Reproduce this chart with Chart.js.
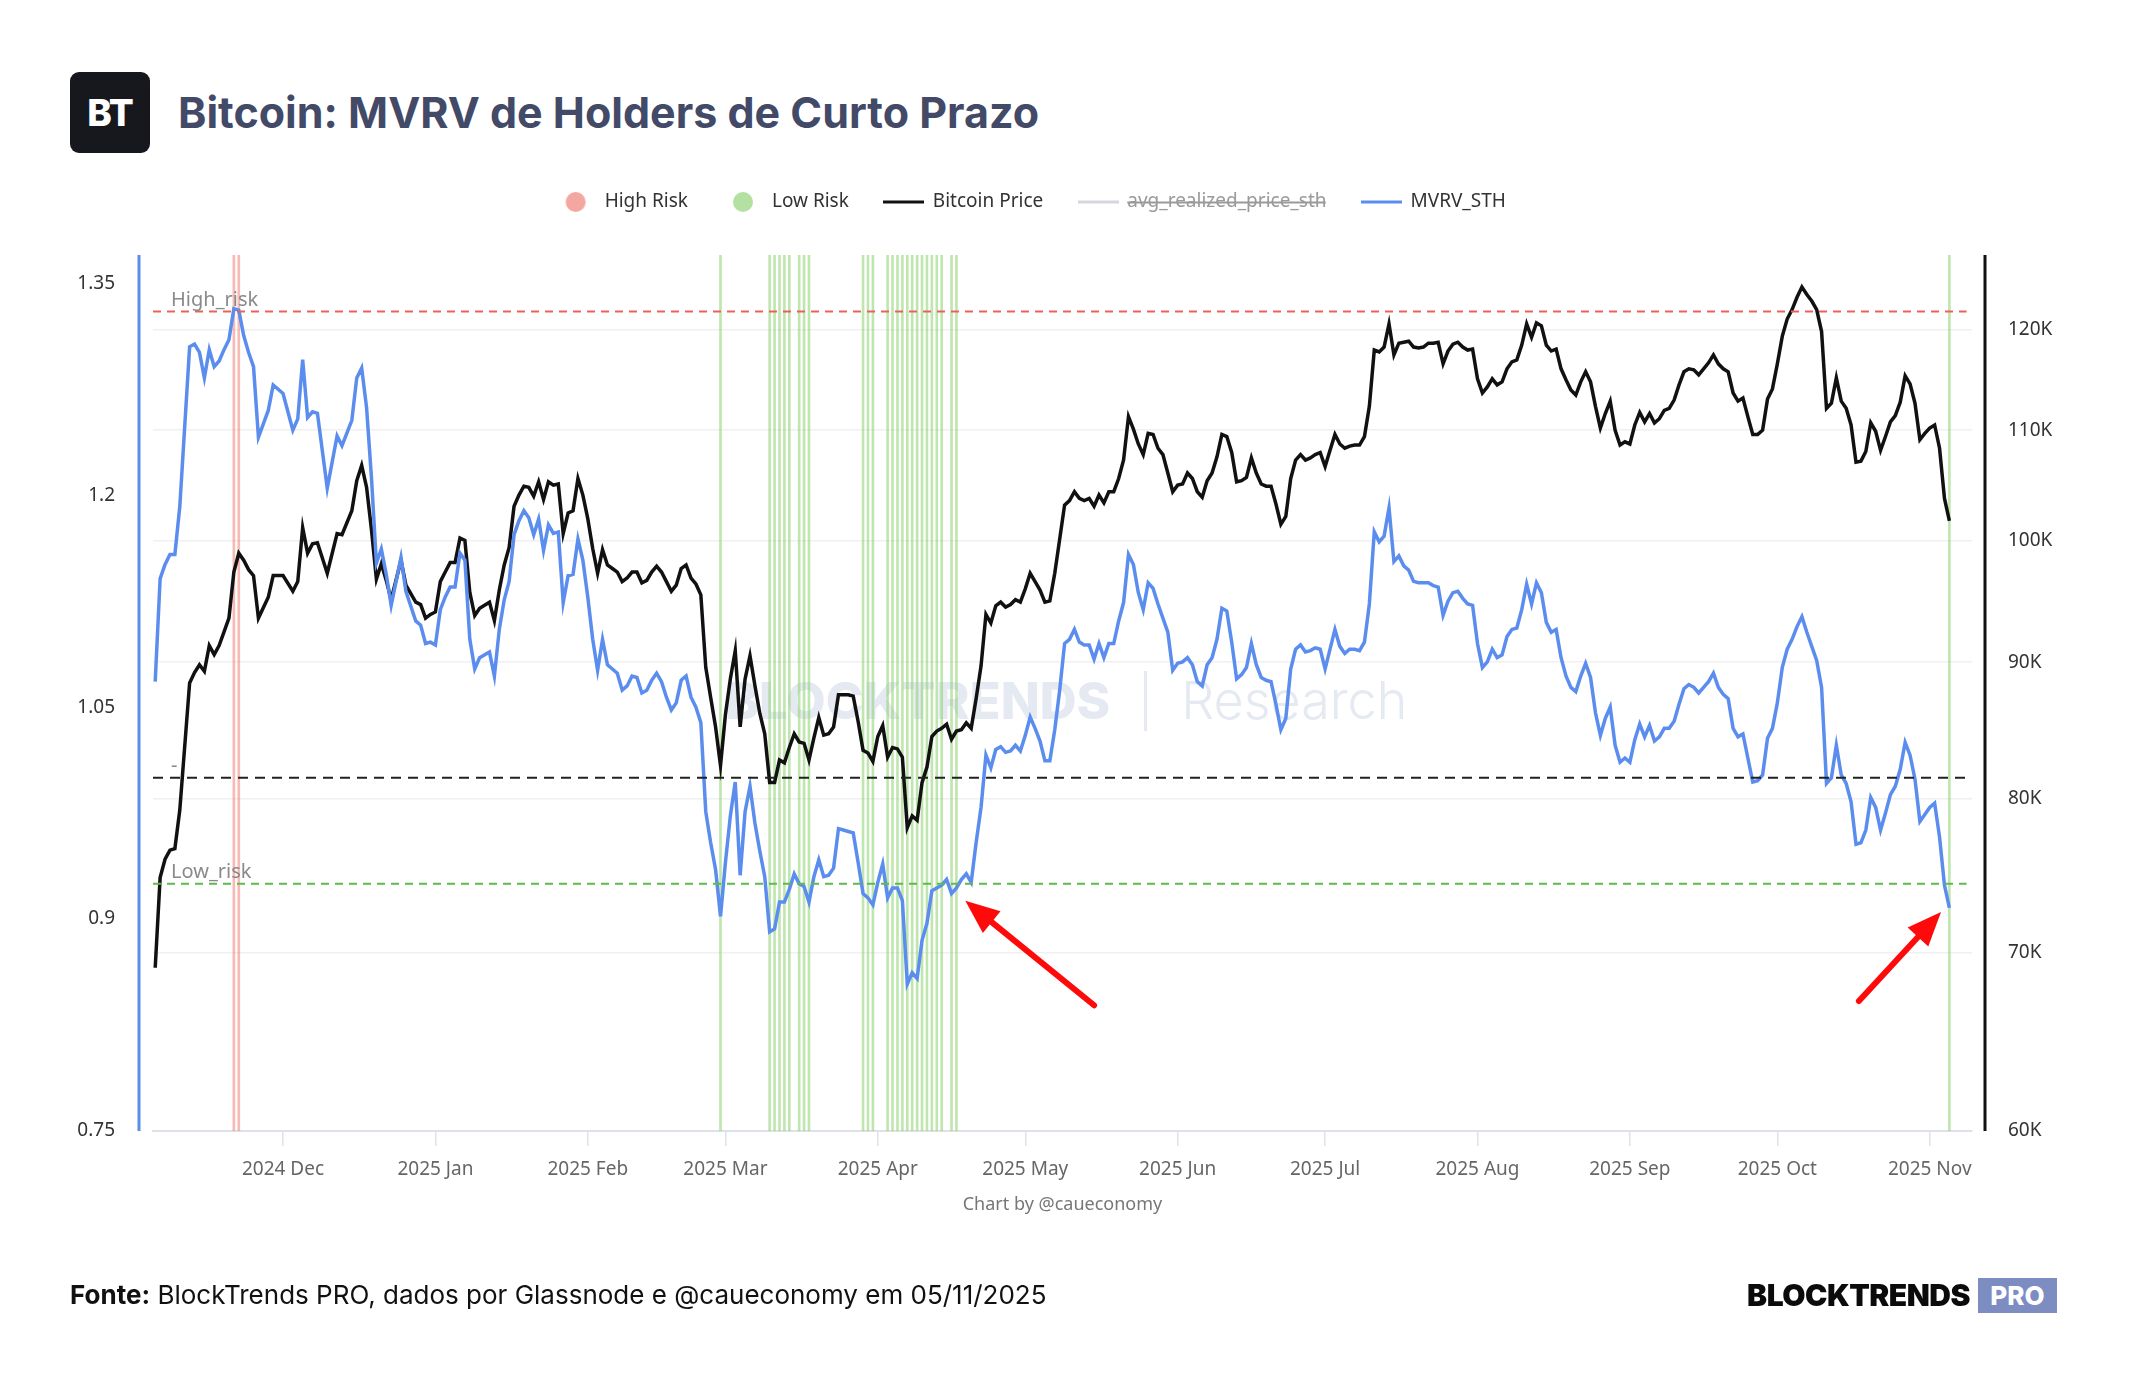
<!DOCTYPE html>
<html>
<head>
<meta charset="utf-8">
<title>Bitcoin: MVRV de Holders de Curto Prazo</title>
<script src="https://cdn.jsdelivr.net/npm/chart.js@4.4.1/dist/chart.umd.min.js"></script>
<style>
    html, body { margin: 0; padding: 0; background: #fff; }
    body { width: 2144px; height: 1400px; position: relative; overflow: hidden; font-family: Inter, 'Noto Sans', sans-serif; }
    #logo { position: absolute; left: 70px; top: 72px; width: 80px; height: 81px; background: #16181d; border-radius: 9px;
        color: #fff; font: 800 37px Inter; display: flex; align-items: center; justify-content: center; letter-spacing: -1px; }
    #title { position: absolute; left: 178px; top: 87px; font: 700 43px/50px Inter; color: #424a68; white-space: nowrap; }
    #wm { position: absolute; left: 725px; top: 671px; height: 60px; display: flex; align-items: center; color: #e4e9f2; white-space: nowrap; }
    #wm .b { font: 800 51px/60px Inter; }
    #wm .bar { width: 3px; height: 60px; background: #e4e9f2; margin: 0 34px; }
    #wm .r { font: 300 52px/60px Inter; }
    #chart { position: absolute; left: 0; top: 0; }
    #source { position: absolute; left: 70px; top: 1279px; font: 400 26px/32px Inter; color: #111; white-space: nowrap; }
    #source b { font-weight: 700; }
    #brand { position: absolute; right: 174px; top: 1278px; font: 900 30px/34px Inter; color: #0b0b0b; letter-spacing: -0.5px; }
    #pro { position: absolute; left: 1978px; top: 1278px; width: 79px; height: 35px; background: #7d8dc2;
        color: #fff; font: 800 26px/35px Inter; text-align: center; }
</style>
</head>
<body>
<div id="logo">BT</div>
<div id="title">Bitcoin: MVRV de Holders de Curto Prazo</div>
<div id="wm"><span class="b">BLOCKTRENDS</span><span class="bar"></span><span class="r">Research</span></div>
<canvas id="chart" width="2144" height="1400"></canvas>
<div id="source"><b>Fonte:</b> BlockTrends PRO, dados por Glassnode e @caueconomy em 05/11/2025</div>
<div id="brand">BLOCKTRENDS</div>
<div id="pro">PRO</div>

<script>
// day 0 = 2024-11-01
const days = [
    4, 5, 6, 7, 8, 9, 11, 12, 13, 14, 15, 16, 17, 18, 19, 20, 21, 22, 23, 24, 25, 27, 28, 30,
    32, 33, 34, 35, 36, 37, 39, 41, 42, 44, 45, 46, 47, 48, 49, 50, 51, 52, 54, 55, 57, 58, 59, 60, 61,
    62, 63, 64, 65, 66, 67, 68, 69, 70, 72, 73, 74, 75, 76, 77, 78, 79, 80, 81, 82, 83, 84, 85, 86, 87, 88, 89, 90, 91,
    92, 93, 94, 95, 96, 97, 98, 99, 100, 101, 102, 103, 104, 105, 106, 107, 108, 109, 110, 111, 112, 113, 114, 115, 116, 117, 118, 119,
    120, 121, 122, 123, 124, 125, 126, 127, 128, 129, 130, 131, 132, 133, 134, 135, 136, 137, 138, 139, 140, 141, 142, 143, 144, 145, 146, 147, 148, 149, 150,
    151, 152, 153, 154, 155, 156, 157, 158, 159, 160, 161, 162, 163, 164, 165, 166, 167, 168, 169, 170, 171, 172, 173, 174, 175, 176, 177, 178, 179, 180,
    181, 182, 183, 184, 185, 186, 187, 188, 189, 190, 191, 192, 193, 194, 195, 196, 197, 198, 199, 200, 201, 202, 203, 204, 205, 206, 207, 208, 209, 210, 211,
    212, 213, 214, 215, 216, 217, 218, 219, 220, 221, 222, 223, 224, 225, 226, 227, 228, 229, 230, 231, 232, 233, 234, 235, 236, 237, 238, 239, 240, 241,
    242, 243, 244, 245, 246, 247, 248, 249, 250, 251, 252, 253, 254, 255, 256, 257, 258, 259, 260, 261, 262, 263, 264, 265, 266, 267, 268, 269, 270, 271, 272,
    273, 274, 275, 276, 277, 278, 279, 280, 281, 282, 283, 284, 285, 286, 287, 288, 289, 290, 291, 292, 293, 294, 295, 296, 297, 298, 299, 300, 301, 302, 303,
    304, 305, 306, 307, 308, 309, 310, 311, 312, 313, 314, 315, 316, 317, 318, 319, 320, 321, 322, 323, 324, 325, 326, 327, 328, 329, 330, 331, 332, 333,
    334, 335, 336, 337, 338, 339, 340, 341, 342, 343, 344, 345, 346, 347, 348, 349, 350, 351, 352, 353, 354, 355, 356, 357, 358, 359, 360, 361, 362, 363, 364,
    365, 366, 367, 368, 369
];

// Bitcoin price, thousands of USD
const btcPrice = [
    69.1, 74.7, 75.9, 76.5, 76.6, 79.2, 88.4, 89.2, 89.8, 89.3, 91.3, 90.6, 91.3, 92.4, 93.5, 97.3, 98.9, 98.3, 97.5, 97.0, 93.5, 95.2, 97.0, 97.0,
    95.7, 96.5, 101.1, 98.9, 99.7, 99.8, 97.2, 100.6, 100.5, 102.6, 105.3, 106.7, 104.7, 100.9, 96.7, 98.0, 96.6, 95.0, 98.3, 96.2, 94.8, 94.6, 93.5, 93.8, 94.0,
    96.5, 97.3, 98.1, 98.1, 100.2, 100.0, 95.6, 93.7, 94.3, 94.8, 93.3, 95.8, 97.9, 99.4, 103.0, 104.0, 104.8, 104.7, 103.9, 105.2, 103.6, 105.2, 104.9, 105.0, 100.6, 102.4, 102.6, 105.5, 104.0,
    101.9, 99.3, 97.2, 99.2, 97.9, 97.6, 97.3, 96.5, 96.8, 97.3, 97.3, 96.4, 96.6, 97.3, 97.8, 97.3, 96.5, 95.7, 96.2, 97.6, 97.9, 96.8, 96.3, 95.4, 89.6, 87.3, 85.1, 82.3,
    86.0, 88.7, 90.9, 85.1, 88.7, 90.5, 88.2, 86.1, 84.6, 81.1, 81.1, 82.7, 82.5, 83.6, 84.6, 84.0, 83.9, 82.7, 84.3, 85.8, 84.5, 84.6, 85.1, 87.5, 87.5, 87.5, 87.4, 85.5, 83.4, 83.2, 82.6,
    84.4, 85.2, 82.9, 83.6, 83.5, 82.9, 78.0, 78.8, 78.5, 81.1, 82.2, 84.4, 84.8, 85.0, 85.3, 84.2, 84.8, 84.9, 85.4, 85.0, 87.2, 89.7, 93.8, 93.1, 94.5, 94.8, 94.4, 94.6, 95.0, 94.8,
    95.9, 97.2, 96.5, 95.8, 94.8, 94.9, 97.2, 100.1, 103.1, 103.5, 104.3, 103.7, 103.5, 103.7, 103.0, 104.0, 103.3, 104.3, 104.3, 105.5, 107.2, 111.3, 110.1, 108.7, 107.7, 109.7, 109.6, 108.3, 107.7, 106.0, 104.3,
    104.9, 105.0, 106.0, 105.5, 104.3, 103.8, 105.3, 106.0, 107.5, 109.6, 109.4, 107.9, 105.2, 105.3, 105.6, 107.4, 106.0, 105.0, 104.8, 104.8, 103.2, 101.4, 102.1, 105.5, 107.2, 107.7, 107.2, 107.4, 107.7, 107.9,
    106.6, 108.1, 109.6, 108.7, 108.3, 108.5, 108.6, 108.6, 109.4, 112.3, 117.9, 117.7, 118.2, 120.6, 117.4, 118.6, 118.7, 118.8, 118.2, 118.1, 118.2, 118.6, 118.6, 118.7, 116.5, 117.8, 118.5, 118.7, 118.2, 117.9, 118.0,
    115.0, 113.6, 114.2, 115.0, 114.4, 114.7, 116.0, 116.7, 116.9, 118.4, 120.6, 119.2, 120.7, 120.4, 118.4, 117.8, 118.0, 116.0, 114.9, 113.9, 113.4, 114.7, 115.7, 114.7, 112.3, 110.2, 111.6, 112.8, 110.0, 108.6, 108.9,
    108.7, 110.5, 111.7, 110.8, 111.6, 110.7, 111.1, 111.9, 112.1, 112.9, 114.4, 115.7, 116.0, 115.9, 115.4, 116.0, 116.6, 117.4, 116.5, 116.0, 115.7, 113.6, 112.8, 113.1, 111.3, 109.6, 109.6, 110.0, 113.0, 114.0,
    116.5, 119.3, 121.1, 122.1, 123.4, 124.5, 123.7, 123.0, 122.1, 119.8, 112.1, 112.6, 115.1, 112.8, 112.1, 110.5, 107.0, 107.1, 108.0, 110.7, 109.9, 108.1, 109.4, 110.8, 111.4, 112.7, 115.3, 114.5, 112.6, 109.1, 109.7,
    110.2, 110.5, 108.3, 103.7, 101.7
];

const mvrvSth = [
    1.068, 1.141, 1.151, 1.158, 1.158, 1.192, 1.305, 1.307, 1.301, 1.283, 1.303, 1.291, 1.295, 1.303, 1.310, 1.332, 1.331, 1.313, 1.301, 1.291, 1.241, 1.260, 1.278, 1.272,
    1.246, 1.254, 1.296, 1.255, 1.259, 1.258, 1.205, 1.242, 1.235, 1.253, 1.283, 1.290, 1.262, 1.212, 1.152, 1.162, 1.144, 1.122, 1.156, 1.132, 1.111, 1.108, 1.095, 1.096, 1.094,
    1.119, 1.128, 1.135, 1.135, 1.159, 1.154, 1.098, 1.077, 1.085, 1.089, 1.072, 1.105, 1.126, 1.139, 1.172, 1.182, 1.189, 1.184, 1.172, 1.183, 1.161, 1.179, 1.173, 1.174, 1.124, 1.143, 1.144, 1.169, 1.154,
    1.128, 1.098, 1.076, 1.098, 1.080, 1.077, 1.074, 1.062, 1.065, 1.072, 1.071, 1.060, 1.062, 1.069, 1.074, 1.068, 1.057, 1.048, 1.053, 1.069, 1.072, 1.057, 1.050, 1.039, 0.976, 0.954, 0.935, 0.902,
    0.940, 0.973, 0.997, 0.931, 0.976, 0.994, 0.968, 0.948, 0.930, 0.891, 0.893, 0.912, 0.912, 0.921, 0.932, 0.925, 0.923, 0.912, 0.930, 0.942, 0.930, 0.931, 0.936, 0.964, 0.963, 0.962, 0.961, 0.940, 0.918, 0.915, 0.910,
    0.926, 0.939, 0.915, 0.922, 0.922, 0.913, 0.854, 0.862, 0.858, 0.885, 0.897, 0.920, 0.922, 0.924, 0.928, 0.918, 0.922, 0.928, 0.932, 0.926, 0.954, 0.979, 1.016, 1.007, 1.020, 1.022, 1.018, 1.019, 1.023, 1.019,
    1.030, 1.043, 1.035, 1.026, 1.012, 1.012, 1.034, 1.062, 1.095, 1.098, 1.105, 1.096, 1.094, 1.094, 1.084, 1.095, 1.085, 1.095, 1.095, 1.111, 1.124, 1.158, 1.151, 1.131, 1.119, 1.138, 1.134, 1.123, 1.113, 1.103, 1.076,
    1.081, 1.082, 1.085, 1.080, 1.068, 1.065, 1.080, 1.085, 1.098, 1.120, 1.118, 1.096, 1.070, 1.073, 1.078, 1.095, 1.080, 1.071, 1.069, 1.068, 1.052, 1.034, 1.042, 1.077, 1.091, 1.094, 1.089, 1.090, 1.092, 1.091,
    1.077, 1.091, 1.105, 1.093, 1.088, 1.091, 1.091, 1.090, 1.096, 1.123, 1.174, 1.167, 1.171, 1.191, 1.153, 1.157, 1.150, 1.147, 1.139, 1.138, 1.138, 1.138, 1.136, 1.135, 1.115, 1.125, 1.131, 1.132, 1.127, 1.123, 1.122,
    1.095, 1.078, 1.082, 1.091, 1.085, 1.087, 1.100, 1.105, 1.106, 1.119, 1.137, 1.123, 1.138, 1.131, 1.110, 1.103, 1.105, 1.085, 1.072, 1.064, 1.061, 1.072, 1.081, 1.071, 1.046, 1.030, 1.042, 1.050, 1.023, 1.011, 1.014,
    1.011, 1.027, 1.038, 1.029, 1.037, 1.026, 1.029, 1.035, 1.035, 1.040, 1.052, 1.063, 1.066, 1.064, 1.060, 1.064, 1.068, 1.074, 1.064, 1.059, 1.056, 1.035, 1.029, 1.031, 1.014, 0.997, 0.998, 1.002, 1.028, 1.035,
    1.053, 1.078, 1.091, 1.098, 1.107, 1.114, 1.103, 1.093, 1.083, 1.064, 0.996, 1.000, 1.023, 1.002, 0.996, 0.983, 0.953, 0.954, 0.963, 0.986, 0.979, 0.963, 0.975, 0.988, 0.994, 1.006, 1.025, 1.016, 0.999, 0.969, 0.974,
    0.979, 0.982, 0.958, 0.924, 0.908
];

// days flagged by the risk bands
const highRiskDays = [20, 21];
const lowRiskDays = [119, 129, 130, 131, 132, 133, 135, 136, 137, 148, 149, 150, 153, 154, 155, 156, 157, 158, 159,
    160, 161, 162, 163, 164, 166, 167, 369];

const highRisk = 1.33;
const lowRisk = 0.925;
const baseLine = 1.0;

const monthDays = [30, 61, 92, 120, 151, 181, 212, 242, 273, 304, 334, 365];
const monthLabels = ['2024 Dec', '2025 Jan', '2025 Feb', '2025 Mar', '2025 Apr', '2025 May', '2025 Jun',
    '2025 Jul', '2025 Aug', '2025 Sep', '2025 Oct', '2025 Nov'];
const mvrvTicks = [0.75, 0.9, 1.05, 1.2, 1.35];
const priceTicks = [60, 70, 80, 90, 100, 110, 120];

// annotation arrows: [tip day, tip mvrv, tail day, tail mvrv]
const arrowMarks = [[168.8, 0.913, 195.0, 0.839], [367.3, 0.905, 350.6, 0.842]];

const xMin = 3.55, xMax = 373.6, refEnd = 372.5;
const yMin = 0.75, yMax = 1.37;

const BLUE = '#5b8def';

function marker(kind, color) {
    const c = document.createElement('canvas');
    const g = c.getContext('2d');
    if (kind === 'circle') {
        c.width = 22; c.height = 22;
        g.fillStyle = color;
        g.beginPath(); g.arc(11, 11, 10, 0, Math.PI * 2); g.fill();
    } else {
        c.width = 41; c.height = 6;
        g.fillStyle = color;
        g.fillRect(0, 1.5, 41, 3);
    }
    return c;
}
const markers = [
    marker('circle', '#f4a7a0'),
    marker('circle', '#b4e1a2'),
    marker('line', '#111111'),
    marker('line', '#d4d7df'),
    marker('line', BLUE)
];

const refLines = [
    { label: 'High_risk', value: highRisk, color: '#e8625a', dash: [8, 6] },
    { label: 'Low_risk', value: lowRisk, color: '#5dbb4b', dash: [8, 6] },
    { label: '-', value: baseLine, color: '#222222', dash: [10, 7] }
];

const riskBar = (list, fill) => ({
    type: 'bar',
    data: list.map(d => ({ x: d, y: yMax })),
    backgroundColor: fill,
    barThickness: 2,
    grouped: false,
    yAxisID: 'y',
    order: 10
});

const datasets = [
    Object.assign({ label: 'High Risk' }, riskBar(highRiskDays, 'rgba(240, 130, 120, 0.55)')),
    Object.assign({ label: 'Low Risk' }, riskBar(lowRiskDays, 'rgba(140, 210, 110, 0.55)')),
    {
        label: 'Bitcoin Price',
        data: days.map((d, i) => ({ x: d, y: btcPrice[i] })),
        borderColor: '#111111',
        borderWidth: 3.5,
        pointRadius: 0,
        tension: 0,
        yAxisID: 'y1',
        order: 3
    },
    {
        label: 'avg_realized_price_sth',
        data: [],
        borderColor: '#d4d7df',
        borderWidth: 3,
        pointRadius: 0,
        hidden: true,
        yAxisID: 'y1',
        order: 4
    },
    {
        label: 'MVRV_STH',
        data: days.map((d, i) => ({ x: d, y: mvrvSth[i] })),
        borderColor: BLUE,
        borderWidth: 3.5,
        pointRadius: 0,
        tension: 0,
        yAxisID: 'y',
        order: 2
    }
];
refLines.forEach(r => {
    datasets.push({
        label: r.label,
        data: [{ x: xMin, y: r.value }, { x: refEnd, y: r.value }],
        borderColor: r.color,
        borderWidth: 2,
        borderDash: r.dash,
        pointRadius: 0,
        yAxisID: 'y',
        order: 1
    });
});

// legend sits higher and a bit left of the plot centre
const legendPlace = {
    id: 'legendPlace',
    afterLayout(chart) {
        const lg = chart.legend;
        const h = lg.height;
        lg.left -= 41;
        lg.right -= 41;
        lg.top = chart.chartArea.top - 98;
        lg.bottom = lg.top + h;
    }
};

const axisLines = {
    id: 'axisLines',
    afterDraw(chart) {
        const { ctx, chartArea: a } = chart;
        ctx.save();
        ctx.lineWidth = 3;
        ctx.strokeStyle = BLUE;
        ctx.beginPath(); ctx.moveTo(a.left - 14, a.top); ctx.lineTo(a.left - 14, a.bottom); ctx.stroke();
        ctx.strokeStyle = '#111111';
        ctx.beginPath(); ctx.moveTo(a.right + 13, a.top); ctx.lineTo(a.right + 13, a.bottom); ctx.stroke();
        ctx.restore();
    }
};

const refLabels = {
    id: 'refLabels',
    afterDatasetsDraw(chart) {
        const { ctx, chartArea: a, scales: { y } } = chart;
        ctx.save();
        ctx.font = "20px 'Noto Sans'";
        ctx.fillStyle = '#8a8a8a';
        ctx.textBaseline = 'alphabetic';
        refLines.forEach(r => {
            ctx.fillText(r.label, a.left + 18, y.getPixelForValue(r.value) - 6);
        });
        ctx.restore();
    }
};

const arrows = {
    id: 'arrows',
    afterDraw(chart) {
        const { ctx, scales: { x, y } } = chart;
        ctx.save();
        ctx.fillStyle = ctx.strokeStyle = '#ff0a0a';
        ctx.lineWidth = 6;
        ctx.lineCap = 'round';
        arrowMarks.forEach(([tipDay, tipVal, tailDay, tailVal]) => {
            const x1 = x.getPixelForValue(tailDay), y1 = y.getPixelForValue(tailVal);
            const x2 = x.getPixelForValue(tipDay), y2 = y.getPixelForValue(tipVal);
            const ang = Math.atan2(y2 - y1, x2 - x1);
            const head = 34, half = 14;
            const bx = x2 - head * Math.cos(ang), by = y2 - head * Math.sin(ang);
            ctx.beginPath(); ctx.moveTo(x1, y1); ctx.lineTo(bx, by); ctx.stroke();
            ctx.beginPath();
            ctx.moveTo(x2, y2);
            ctx.lineTo(bx + half * Math.sin(ang), by - half * Math.cos(ang));
            ctx.lineTo(bx - half * Math.sin(ang), by + half * Math.cos(ang));
            ctx.closePath();
            ctx.fill();
        });
        ctx.restore();
    }
};

Chart.defaults.font.family = "'Noto Sans', sans-serif";

const ctx = document.getElementById('chart').getContext('2d');
new Chart(ctx, {
    type: 'line',
    data: { datasets },
    options: {
        responsive: false,
        animation: false,
        events: [],
        layout: { padding: { left: 0, right: 0, top: 190.5, bottom: 169 } },
        plugins: {
            tooltip: { enabled: false },
            legend: {
                position: 'top',
                labels: {
                    usePointStyle: true,
                    pointStyleWidth: 39,
                    padding: 35.5,
                    color: '#333333',
                    font: { size: 19 },
                    filter: item => item.datasetIndex < 5,
                    sort: (a, b) => a.datasetIndex - b.datasetIndex,
                    generateLabels(chart) {
                        const items = Chart.defaults.plugins.legend.labels.generateLabels(chart);
                        items.forEach(it => {
                            if (markers[it.datasetIndex]) it.pointStyle = markers[it.datasetIndex];
                            if (it.hidden) it.fontColor = '#9a9a9a';
                        });
                        return items;
                    }
                }
            }
        },
        scales: {
            x: {
                type: 'linear',
                min: xMin,
                max: xMax,
                offset: false,
                afterBuildTicks: s => { s.ticks = monthDays.map(v => ({ value: v })); },
                afterFit: s => { s.height = 100; },
                ticks: {
                    autoSkip: false,
                    maxRotation: 0,
                    padding: 12,
                    color: '#666666',
                    font: { size: 19 },
                    callback: v => monthLabels[monthDays.indexOf(v)]
                },
                grid: { offset: false, drawOnChartArea: false, drawTicks: true, tickLength: 15, color: '#e2e2e2', lineWidth: 1.5 },
                border: { display: true, color: '#dde1ea', width: 2 },
                title: {
                    display: true,
                    text: 'Chart by @caueconomy',
                    color: '#777777',
                    font: { size: 18 },
                    padding: { top: 0, bottom: 15 }
                }
            },
            y: {
                position: 'left',
                min: yMin,
                max: yMax,
                afterBuildTicks: s => { s.ticks = mvrvTicks.map(v => ({ value: v })); },
                afterFit: s => { s.width = 153; },
                ticks: { padding: 38, color: '#333333', font: { size: 19 }, callback: v => String(v) },
                grid: { display: false, drawTicks: false },
                border: { display: false }
            },
            y1: {
                type: 'logarithmic',
                position: 'right',
                min: 60,
                max: 128,
                afterBuildTicks: s => { s.ticks = priceTicks.map(v => ({ value: v })); },
                afterFit: s => { s.width = 172; },
                ticks: { padding: 36, color: '#333333', font: { size: 19 }, callback: v => v + 'K' },
                grid: { color: '#f0f0f0', lineWidth: 1.5, drawTicks: false },
                border: { display: false }
            }
        }
    },
    plugins: [legendPlace, axisLines, refLabels, arrows]
});
</script>
</body>
</html>
